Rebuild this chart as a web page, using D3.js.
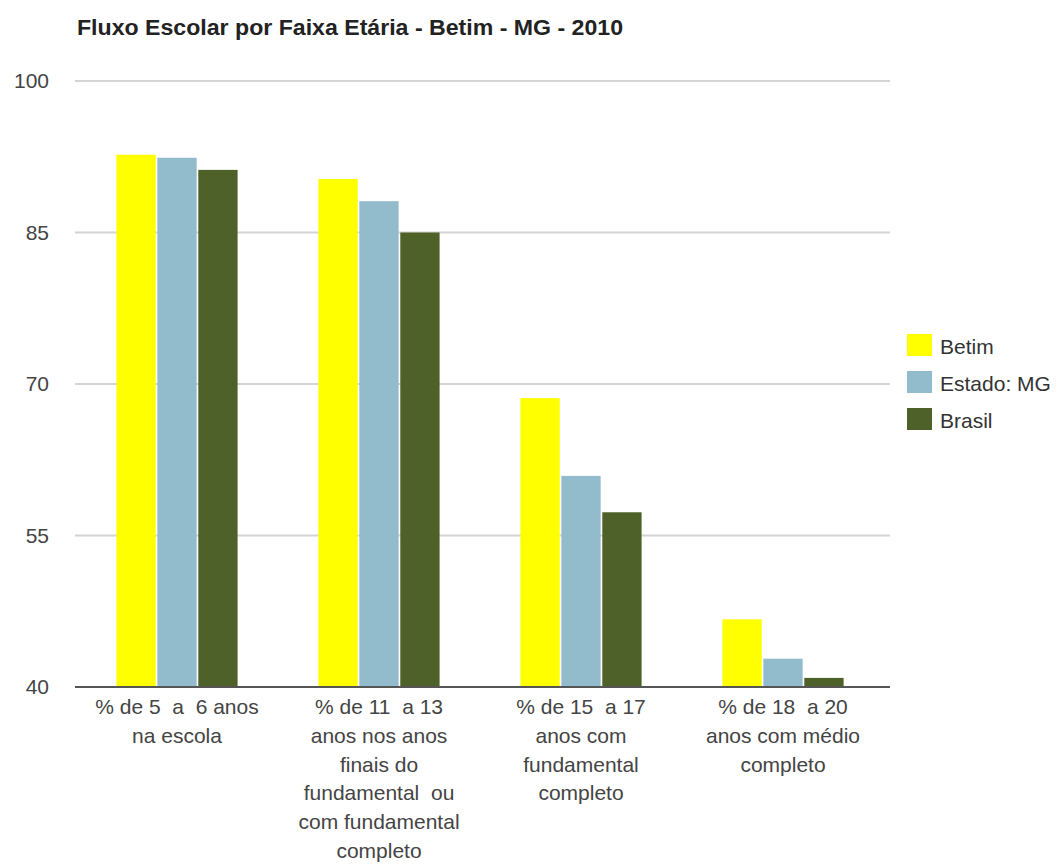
<!DOCTYPE html>
<html>
<head>
<meta charset="utf-8">
<script src="https://cdn.jsdelivr.net/npm/d3@7"></script>
<style>
  html, body { margin: 0; padding: 0; background: #fff; }
  svg { display: block; font-family: "Liberation Sans", Arial, sans-serif; }
  .cat tspan { white-space: pre; }
</style>
</head>
<body>
<svg id="chart" width="1061" height="864"></svg>
<script>
const title = "Fluxo Escolar por Faixa Etária - Betim - MG - 2010";
const categories = [
  ["% de 5  a  6 anos", "na escola"],
  ["% de 11  a 13", "anos nos anos", "finais do", "fundamental  ou", "com fundamental", "completo"],
  ["% de 15  a 17", "anos com", "fundamental", "completo"],
  ["% de 18  a 20", "anos com médio", "completo"]
];
const seriesNames = ["Betim", "Estado: MG", "Brasil"];
const betim = [92.7, 90.3, 68.6, 46.7];
const estadoMG = [92.4, 88.1, 60.9, 42.8];
const brasil = [91.2, 85.0, 57.3, 40.9];
const seriesColors = ["#FFFF00", "#92BCCB", "#4E6128"];
const yTicks = [40, 55, 70, 85, 100];

const seriesValues = [betim, estadoMG, brasil];
const svg = d3.select("#chart");

const x0 = d3.scaleBand().domain(d3.range(categories.length)).range([76, 884]).paddingInner(0.4).paddingOuter(0.2);
const x1 = d3.scaleBand().domain(d3.range(seriesNames.length)).range([0, x0.bandwidth()]).paddingInner(0.04);
const y = d3.scaleLinear().domain([40, 100]).range([687, 81]);

// title
svg.append("text")
  .attr("x", 77).attr("y", 35)
  .attr("font-size", 22).attr("font-weight", "bold").attr("fill", "#222")
  .attr("textLength", 546).attr("lengthAdjust", "spacingAndGlyphs")
  .text(title);

// gridlines
svg.append("g").selectAll("line")
  .data(yTicks.filter(d => d !== 40))
  .join("line")
  .attr("x1", 75).attr("x2", 890)
  .attr("y1", d => y(d)).attr("y2", d => y(d))
  .attr("stroke", "#d4d4d4").attr("stroke-width", 2);

// y axis labels
const yAxis = d3.axisLeft(y).tickValues(yTicks).tickSize(0).tickPadding(0);
const gy = svg.append("g").attr("transform", "translate(49,0)").call(yAxis);
gy.select(".domain").remove();
gy.selectAll("text").attr("font-size", 21).attr("fill", "#444")
  .attr("font-family", "'Liberation Sans', Arial, sans-serif");

// bars
const groups = svg.append("g").selectAll("g")
  .data(categories.map((c, i) => i))
  .join("g")
  .attr("transform", i => `translate(${x0(i)},0)`);
groups.selectAll("rect")
  .data(i => seriesValues.map((vals, s) => ({s, v: vals[i]})))
  .join("rect")
  .attr("x", d => x1(d.s))
  .attr("width", x1.bandwidth())
  .attr("y", d => y(d.v))
  .attr("height", d => y(40) - y(d.v))
  .attr("fill", d => seriesColors[d.s]);

// x axis line
const xAxis = d3.axisBottom(x0).tickSize(0).tickFormat(() => "");
const gx = svg.append("g").attr("transform", `translate(0,${y(40)})`).call(xAxis);
gx.select(".domain").remove();
svg.append("line")
  .attr("x1", 75).attr("x2", 890).attr("y1", y(40)).attr("y2", y(40))
  .attr("stroke", "#555").attr("stroke-width", 2);

// category labels
const lab = svg.append("g").selectAll("text")
  .data(categories)
  .join("text")
  .attr("class", "cat")
  .attr("text-anchor", "middle")
  .attr("font-size", 21).attr("fill", "#444")
  .attr("transform", (d, i) => `translate(${x0(i) + x0.bandwidth() / 2},714)`);
lab.selectAll("tspan")
  .data(d => d)
  .join("tspan")
  .attr("x", 0)
  .attr("y", (d, j) => j * 28.8)
  .text(d => d);

// legend
const leg = svg.append("g").selectAll("g")
  .data(seriesNames)
  .join("g")
  .attr("transform", (d, i) => `translate(907,${334 + i * 37})`);
leg.append("rect").attr("width", 25).attr("height", 22).attr("fill", (d, i) => seriesColors[i]);
leg.append("text").attr("x", 33).attr("y", 20).attr("font-size", 21).attr("fill", "#333").text(d => d);
</script>
</body>
</html>
